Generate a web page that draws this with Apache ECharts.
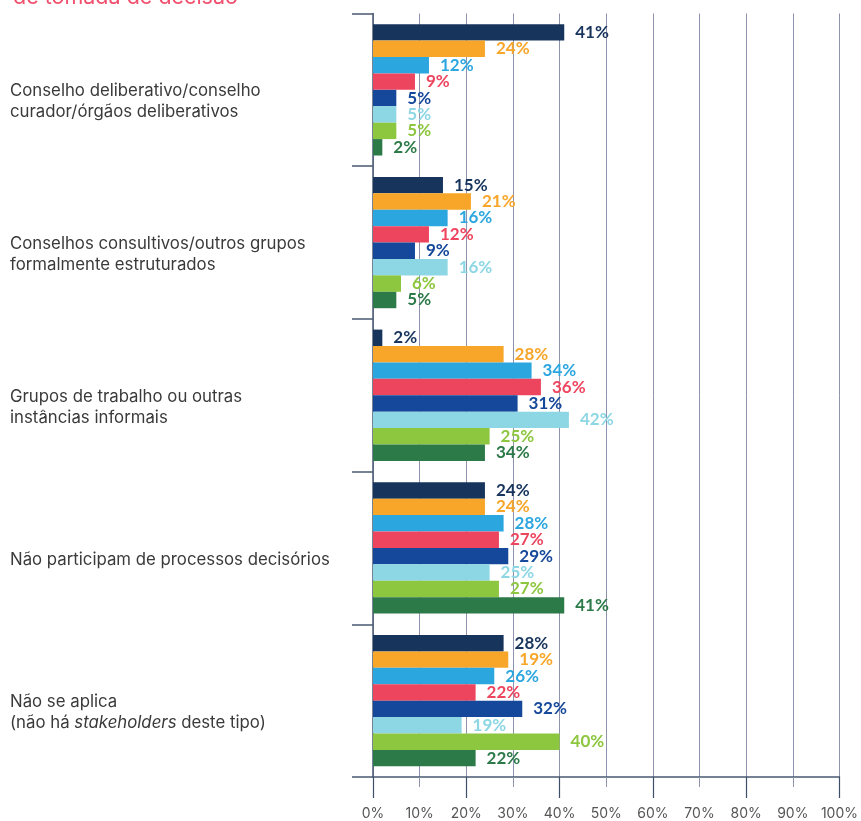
<!DOCTYPE html>
<html>
<head>
<meta charset="utf-8">
<script src="https://cdn.jsdelivr.net/npm/echarts@6/dist/echarts.min.js"></script>
<style>
  html, body { margin: 0; padding: 0; background: #fff; }
  #graphics { width: 861px; height: 821px; }
</style>
</head>
<body>
<div id="graphics"></div>
<script>
// categories (top to bottom)
const categories = [
    'Conselho deliberativo/conselho\ncurador/órgãos deliberativos',
    'Conselhos consultivos/outros grupos\nformalmente estruturados',
    'Grupos de trabalho ou outras\ninstâncias informais',
    'Não participam de processos decisórios',
    'Não se aplica\n(não há {i|stakeholders} deste tipo)'
];

// bar lengths as drawn (%)
const navyValues = [41, 15, 2, 24, 28];
const orangeValues = [24, 21, 28, 24, 29];
const blueValues = [12, 16, 34, 28, 26];
const redValues = [9, 12, 36, 27, 22];
const darkBlueValues = [5, 9, 31, 29, 32];
const lightBlueValues = [5, 16, 42, 25, 19];
const greenValues = [5, 6, 25, 27, 40];
const darkGreenValues = [2, 5, 24, 41, 22];

// printed labels (%), differ from the bars in two places in the original
const navyLabels = [41, 15, 2, 24, 28];
const orangeLabels = [24, 21, 28, 24, 19];
const blueLabels = [12, 16, 34, 28, 26];
const redLabels = [9, 12, 36, 27, 22];
const darkBlueLabels = [5, 9, 31, 29, 32];
const lightBlueLabels = [5, 16, 42, 25, 19];
const greenLabels = [5, 6, 25, 27, 40];
const darkGreenLabels = [2, 5, 34, 41, 22];

const xTicks = [0, 10, 20, 30, 40, 50, 60, 70, 80, 90, 100];

const seriesDefs = [
    { color: '#17345c', values: navyValues, labels: navyLabels },
    { color: '#f7a62a', values: orangeValues, labels: orangeLabels },
    { color: '#2ca6df', values: blueValues, labels: blueLabels },
    { color: '#ee455f', values: redValues, labels: redLabels },
    { color: '#15489a', values: darkBlueValues, labels: darkBlueLabels },
    { color: '#8dd7e5', values: lightBlueValues, labels: lightBlueLabels },
    { color: '#8dc63f', values: greenValues, labels: greenLabels },
    { color: '#2c7a48', values: darkGreenValues, labels: darkGreenLabels }
];

var myChart = echarts.init(document.getElementById('graphics'));

var option = {
    animation: false,
    title: {
        text: 'de tomada de decisão',
        left: 8,
        top: -18,
        textStyle: { color: '#f0506e', fontSize: 21.5, fontWeight: 'normal', fontFamily: 'Inter' }
    },
    grid: { left: 373, right: 20, top: 13.5, bottom: 40.5 },
    xAxis: [{
        type: 'value',
        position: 'bottom',
        min: xTicks[0],
        max: xTicks[xTicks.length - 1],
        interval: 10,
        axisLine: { show: true, lineStyle: { color: '#4a5a72', width: 1.5 } },
        axisTick: { show: true, length: 10, lineStyle: { color: '#8d93ad' } },
        splitLine: { show: true, lineStyle: { color: '#8d93ad', width: 1 } },
        axisLabel: {
            margin: 30,
            color: '#555',
            fontSize: 14,
            fontFamily: 'Inter',
            formatter: '{value}%'
        }
    }, {
        type: 'value',
        position: 'bottom',
        offset: 0,
        min: xTicks[0],
        max: xTicks[xTicks.length - 1],
        interval: 20,
        axisLine: { show: false },
        axisTick: { show: true, length: 21, lineStyle: { color: '#3e4e66', width: 1.2 } },
        splitLine: { show: false },
        axisLabel: { show: false }
    }],
    yAxis: {
        type: 'category',
        inverse: true,
        data: categories,
        axisLine: { show: true, lineStyle: { color: '#4a5a72', width: 1.5 } },
        axisTick: { show: true, length: 21, lineStyle: { color: '#4a5a72', width: 1.5 } },
        axisLabel: {
            align: 'left',
            margin: 363,
            padding: [24, 0, 0, 0],
            color: '#3a3a3a',
            fontSize: 16.8,
            lineHeight: 21,
            fontFamily: 'Inter',
            rich: {
                i: { fontStyle: 'italic', color: '#3a3a3a', fontSize: 16.8, fontFamily: 'Inter', lineHeight: 21 }
            }
        }
    },
    series: seriesDefs.map(function (s) {
        return {
            type: 'bar',
            barGap: '0%',
            barCategoryGap: '14%',
            itemStyle: { color: s.color },
            label: {
                show: true,
                position: 'right',
                distance: 11,
                color: s.color,
                fontSize: 17,
                fontWeight: 'bold',
                fontFamily: 'Lato',
                formatter: function (p) { return s.labels[p.dataIndex] + '%'; }
            },
            data: s.values
        };
    })
};

myChart.setOption(option);
</script>
</body>
</html>
